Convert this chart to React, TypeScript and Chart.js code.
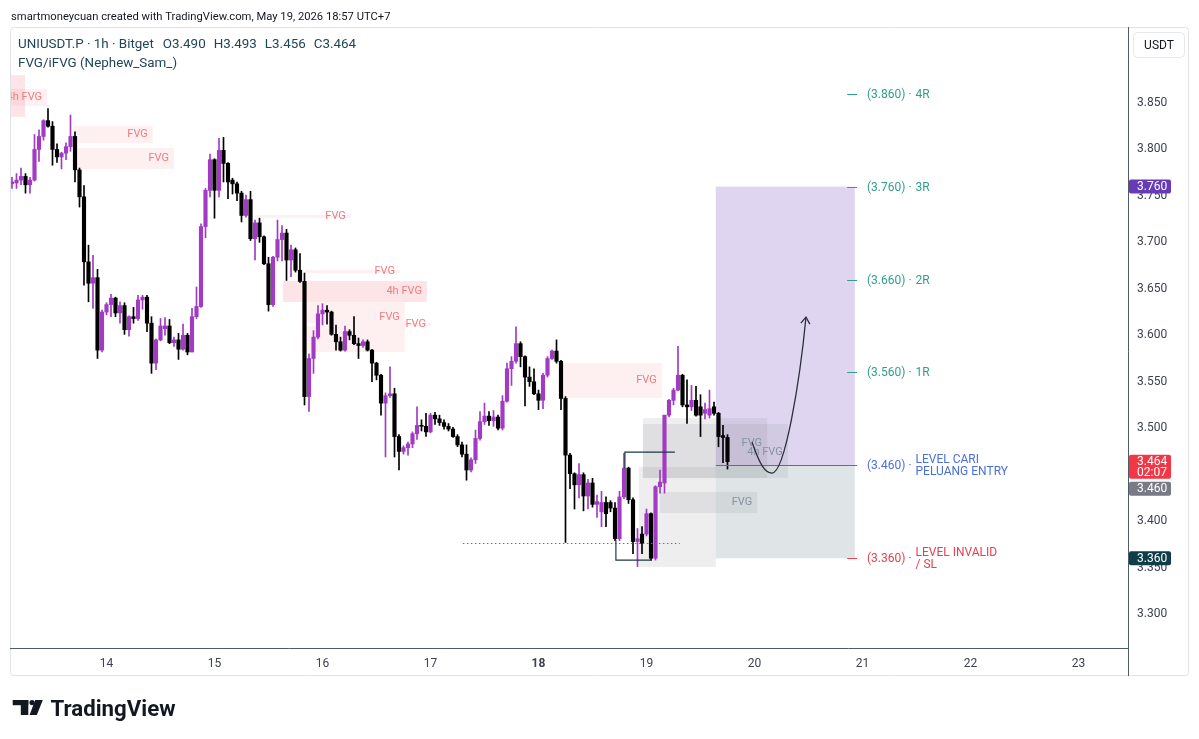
import React, { useEffect, useRef } from "react";
import { Chart, registerables } from "chart.js";

Chart.register(...registerables);

const FONT = "Roboto, 'Noto Sans', 'DejaVu Sans', sans-serif";

// Hourly candles, index 0 = 13 May 03:00 (UTC+7) ... index 159 = 19 May 18:00
const opens = [
  3.763, 3.764, 3.767, 3.771, 3.762, 3.767, 3.800, 3.814, 3.831, 3.825,
  3.800, 3.792, 3.796, 3.803, 3.814, 3.778, 3.749, 3.679, 3.656, 3.662,
  3.584, 3.625, 3.633, 3.640, 3.624, 3.632, 3.606, 3.620, 3.618, 3.638,
  3.641, 3.613, 3.570, 3.595, 3.607, 3.610, 3.592, 3.595, 3.585, 3.600,
  3.582, 3.620, 3.631, 3.717, 3.756, 3.789, 3.756, 3.799, 3.785, 3.767,
  3.763, 3.753, 3.729, 3.746, 3.704, 3.721, 3.706, 3.677, 3.633, 3.684,
  3.703, 3.710, 3.681, 3.692, 3.670, 3.658, 3.534, 3.575, 3.598, 3.623,
  3.627, 3.625, 3.601, 3.593, 3.584, 3.604, 3.600, 3.591, 3.589, 3.593,
  3.584, 3.570, 3.557, 3.527, 3.535, 3.537, 3.491, 3.475, 3.479, 3.483,
  3.494, 3.503, 3.502, 3.496, 3.514, 3.510, 3.506, 3.502, 3.499, 3.491,
  3.482, 3.472, 3.455, 3.466, 3.489, 3.507, 3.513, 3.508, 3.512, 3.500,
  3.529, 3.564, 3.572, 3.591, 3.577, 3.555, 3.550, 3.537, 3.530, 3.557,
  3.575, 3.583, 3.572, 3.532, 3.471, 3.451, 3.439, 3.450, 3.427, 3.441,
  3.418, 3.410, 3.420, 3.420, 3.414, 3.381, 3.426, 3.457, 3.423, 3.378,
  3.386, 3.386, 3.408, 3.360, 3.437, 3.441, 3.514, 3.530, 3.541, 3.557,
  3.525, 3.523, 3.530, 3.523, 3.516, 3.514, 3.523, 3.516, 3.492, 3.490,
];
const highs = [
  3.770, 3.774, 3.780, 3.774, 3.770, 3.816, 3.821, 3.832, 3.844, 3.830,
  3.806, 3.797, 3.807, 3.837, 3.819, 3.780, 3.761, 3.697, 3.686, 3.671,
  3.627, 3.635, 3.644, 3.641, 3.636, 3.635, 3.621, 3.630, 3.643, 3.643,
  3.643, 3.620, 3.596, 3.618, 3.619, 3.617, 3.598, 3.602, 3.612, 3.602,
  3.629, 3.652, 3.720, 3.758, 3.795, 3.790, 3.812, 3.813, 3.786, 3.769,
  3.765, 3.755, 3.751, 3.755, 3.724, 3.726, 3.707, 3.684, 3.685, 3.724,
  3.718, 3.714, 3.697, 3.694, 3.688, 3.667, 3.580, 3.605, 3.632, 3.634,
  3.632, 3.626, 3.611, 3.598, 3.610, 3.606, 3.620, 3.597, 3.595, 3.595,
  3.585, 3.571, 3.558, 3.538, 3.566, 3.543, 3.493, 3.481, 3.485, 3.496,
  3.523, 3.509, 3.516, 3.516, 3.517, 3.514, 3.509, 3.505, 3.501, 3.493,
  3.485, 3.482, 3.468, 3.498, 3.518, 3.527, 3.518, 3.519, 3.514, 3.535,
  3.570, 3.577, 3.609, 3.593, 3.578, 3.566, 3.564, 3.541, 3.559, 3.577,
  3.584, 3.595, 3.573, 3.534, 3.473, 3.452, 3.462, 3.452, 3.445, 3.446,
  3.428, 3.432, 3.426, 3.422, 3.420, 3.432, 3.473, 3.458, 3.425, 3.392,
  3.394, 3.413, 3.409, 3.438, 3.455, 3.514, 3.531, 3.543, 3.588, 3.558,
  3.552, 3.546, 3.545, 3.536, 3.527, 3.541, 3.528, 3.517, 3.503, 3.493,
];
const lows = [
  3.758, 3.758, 3.762, 3.753, 3.753, 3.766, 3.787, 3.810, 3.824, 3.783,
  3.786, 3.779, 3.789, 3.798, 3.765, 3.738, 3.654, 3.636, 3.629, 3.575,
  3.582, 3.622, 3.620, 3.620, 3.613, 3.601, 3.599, 3.613, 3.616, 3.628,
  3.604, 3.559, 3.563, 3.594, 3.600, 3.591, 3.588, 3.574, 3.584, 3.579,
  3.582, 3.618, 3.630, 3.705, 3.749, 3.726, 3.749, 3.765, 3.747, 3.752,
  3.745, 3.722, 3.727, 3.702, 3.681, 3.700, 3.676, 3.626, 3.631, 3.680,
  3.680, 3.659, 3.663, 3.668, 3.657, 3.525, 3.518, 3.559, 3.596, 3.611,
  3.612, 3.600, 3.584, 3.583, 3.583, 3.595, 3.590, 3.575, 3.587, 3.583,
  3.550, 3.552, 3.514, 3.469, 3.533, 3.469, 3.455, 3.472, 3.471, 3.479,
  3.488, 3.497, 3.491, 3.495, 3.504, 3.503, 3.499, 3.497, 3.490, 3.480,
  3.469, 3.444, 3.453, 3.462, 3.487, 3.504, 3.503, 3.502, 3.498, 3.498,
  3.528, 3.546, 3.570, 3.566, 3.524, 3.545, 3.536, 3.520, 3.521, 3.555,
  3.574, 3.570, 3.520, 3.377, 3.435, 3.413, 3.425, 3.411, 3.413, 3.415,
  3.404, 3.394, 3.394, 3.410, 3.379, 3.379, 3.424, 3.419, 3.365, 3.351,
  3.365, 3.384, 3.358, 3.358, 3.430, 3.430, 3.512, 3.525, 3.540, 3.523,
  3.505, 3.519, 3.513, 3.491, 3.510, 3.511, 3.514, 3.480, 3.463, 3.456,
];
const closes = [
  3.765, 3.767, 3.771, 3.762, 3.767, 3.800, 3.814, 3.831, 3.825, 3.800,
  3.792, 3.796, 3.803, 3.814, 3.778, 3.749, 3.679, 3.656, 3.662, 3.584,
  3.625, 3.633, 3.640, 3.624, 3.632, 3.606, 3.620, 3.618, 3.638, 3.641,
  3.613, 3.570, 3.595, 3.610, 3.610, 3.592, 3.595, 3.585, 3.600, 3.582,
  3.620, 3.631, 3.717, 3.756, 3.789, 3.756, 3.799, 3.785, 3.765, 3.763,
  3.753, 3.729, 3.746, 3.704, 3.721, 3.706, 3.677, 3.633, 3.684, 3.703,
  3.710, 3.681, 3.692, 3.670, 3.658, 3.534, 3.575, 3.598, 3.623, 3.627,
  3.625, 3.601, 3.593, 3.584, 3.604, 3.600, 3.591, 3.589, 3.593, 3.584,
  3.570, 3.557, 3.527, 3.535, 3.537, 3.491, 3.475, 3.479, 3.483, 3.494,
  3.503, 3.502, 3.496, 3.514, 3.510, 3.506, 3.502, 3.499, 3.491, 3.482,
  3.472, 3.455, 3.466, 3.489, 3.507, 3.513, 3.508, 3.512, 3.500, 3.529,
  3.564, 3.572, 3.591, 3.577, 3.555, 3.550, 3.537, 3.530, 3.557, 3.575,
  3.583, 3.572, 3.532, 3.471, 3.451, 3.439, 3.450, 3.427, 3.441, 3.418,
  3.421, 3.420, 3.408, 3.414, 3.381, 3.426, 3.457, 3.423, 3.378, 3.381,
  3.376, 3.408, 3.360, 3.437, 3.442, 3.514, 3.530, 3.541, 3.557, 3.525,
  3.523, 3.530, 3.514, 3.514, 3.520, 3.521, 3.516, 3.491, 3.490, 3.464,
];

// Time axis: day boundaries as candle indices
const dayTickIndex = [21, 45, 69, 93, 117, 141, 165, 189, 213, 237];
const dayTickLabels = ["14", "15", "16", "17", "18", "19", "20", "21", "22", "23"];
const boldDayLabel = "18";
const xWindow = [-0.444, 248.0];

// Price axis
const priceTicks = [3.3, 3.35, 3.4, 3.45, 3.5, 3.55, 3.6, 3.65, 3.7, 3.75, 3.8, 3.85];
const yWindow = [3.2634, 3.9318];

// Long-position plan
const rewardLevels = [3.86, 3.76, 3.66, 3.56];
const rewardLabels = ["4R", "3R", "2R", "1R"];
const entryPrice = 3.46;
const stopPrice = 3.36;
const targetPrice = 3.76;
const entryLabel = ["LEVEL CARI", "PELUANG ENTRY"];
const stopLabel = ["LEVEL INVALID", "/ SL"];
const positionSpan = [156.4, 187.3];
const levelMarkSpan = [185.6, 187.8];
const levelTextIndex = 190;
const countdown = "02:07";

// FVG zones (candle index span, price top/bottom)
const bearFvgZones = [
  { from: -0.5, to: 2.9, top: 3.88, bottom: 3.835, strong: true, label: "" },
  { from: -0.5, to: 7.8, top: 3.865, bottom: 3.847, label: "4h FVG" },
  { from: 13.6, to: 31.3, top: 3.8252, bottom: 3.8069, label: "FVG" },
  { from: 14.4, to: 36.0, top: 3.8016, bottom: 3.779, label: "FVG" },
  { from: 54.0, to: 75.3, top: 3.7294, bottom: 3.7262, label: "FVG" },
  { from: 65.1, to: 86.2, top: 3.6702, bottom: 3.667, label: "FVG" },
  { from: 60.2, to: 92.2, top: 3.6584, bottom: 3.6358, strong: true, label: "4h FVG" },
  { from: 64.4, to: 87.3, top: 3.6358, bottom: 3.6132, label: "FVG", labelPrice: 3.6196 },
  { from: 64.4, to: 87.3, top: 3.61, bottom: 3.582, label: "" },
  { from: 70.7, to: 93.1, top: 3.6132, bottom: 3.61, label: "FVG" },
  { from: 121.8, to: 144.4, top: 3.5701, bottom: 3.5325, label: "FVG" },
];
const grayFvgZones = [
  { from: 140.2, to: 167.8, top: 3.5109, bottom: 3.4463, label: "FVG", labelPrice: 3.484 },
  { from: 140.2, to: 172.4, top: 3.5045, bottom: 3.4463, label: "4h FVG", labelPrice: 3.4743 },
  { from: 139.3, to: 156.4, top: 3.4582, bottom: 3.3505, label: "" },
  { from: 144.0, to: 165.6, top: 3.4313, bottom: 3.4087, label: "FVG" },
];

// Market-structure drawings
const swingHigh = { from: 136.2, to: 147.3, price: 3.4743, dropTo: 3.457 };
const swingLow = { from: 134.2, to: 142.2, price: 3.358, riseFrom: 3.3796 };
const liquidityLine = { from: 100.2, to: 148.4, price: 3.3764 };
const projectionPath = [
  [164.44, 3.4851],
  [166.22, 3.4603], [167.33, 3.4517], [168.89, 3.4517],
  [171.78, 3.4517], [175.11, 3.5518], [176.44, 3.6196],
];

const UP = "#a13bc4";
const DOWN = "#000000";
const TEAL = "#2f9f8c";
const BLUE = "#4a6fd8";
const RED = "#e5404f";

function fitSize(ctx: any, text: string, width: number, weight = "normal") {
  ctx.font = `${weight} 100px ${FONT}`;
  return (100 * width) / ctx.measureText(text).width;
}

function roundRect(ctx: any, x: number, y: number, w: number, h: number, r: number) {
  ctx.beginPath();
  ctx.moveTo(x + r, y);
  ctx.lineTo(x + w - r, y);
  ctx.quadraticCurveTo(x + w, y, x + w, y + r);
  ctx.lineTo(x + w, y + h - r);
  ctx.quadraticCurveTo(x + w, y + h, x + w - r, y + h);
  ctx.lineTo(x + r, y + h);
  ctx.quadraticCurveTo(x, y + h, x, y + h - r);
  ctx.lineTo(x, y + r);
  ctx.quadraticCurveTo(x, y, x + r, y);
  ctx.closePath();
}

const overlayPlugin: any = {
  id: "overlay",
  beforeDraw(chart: any) {
    const { ctx, width, height } = chart;
    ctx.save();
    ctx.fillStyle = "#ffffff";
    ctx.fillRect(0, 0, width, height);
    ctx.restore();
  },
  beforeDatasetsDraw(chart: any) {
    const { ctx, chartArea: a } = chart;
    const X = (v: number) => chart.scales.x.getPixelForValue(v);
    const Y = (v: number) => chart.scales.y.getPixelForValue(v);
    ctx.save();
    ctx.beginPath();
    ctx.rect(a.left, a.top, a.right - a.left, a.bottom - a.top);
    ctx.clip();
    const box = (from: number, to: number, top: number, bottom: number, fill: string) => {
      const x0 = X(from), x1 = X(to), y0 = Y(top), y1 = Y(bottom);
      ctx.fillStyle = fill;
      ctx.fillRect(x0, y0, x1 - x0, y1 - y0);
    };
    box(positionSpan[0], positionSpan[1], targetPrice, entryPrice, "rgba(126,87,194,0.25)");
    box(positionSpan[0], positionSpan[1], entryPrice, stopPrice, "rgba(55,95,105,0.16)");
    bearFvgZones.forEach((z: any) =>
      box(z.from, z.to, z.top, z.bottom, z.strong ? "rgba(242,54,69,0.13)" : "rgba(242,54,69,0.075)")
    );
    grayFvgZones.forEach((z: any) => box(z.from, z.to, z.top, z.bottom, "rgba(120,123,134,0.13)"));
    ctx.restore();
  },
  afterDatasetsDraw(chart: any) {
    const { ctx, chartArea: a } = chart;
    const X = (v: number) => chart.scales.x.getPixelForValue(v);
    const Y = (v: number) => chart.scales.y.getPixelForValue(v);
    ctx.save();
    ctx.beginPath();
    ctx.rect(a.left, a.top, a.right - a.left, a.bottom - a.top);
    ctx.clip();

    // zone labels
    ctx.font = `11px ${FONT}`;
    ctx.textAlign = "right";
    ctx.textBaseline = "middle";
    bearFvgZones.forEach((z: any) => {
      if (!z.label) return;
      ctx.fillStyle = "#f07b80";
      const p = z.labelPrice ?? (z.top + z.bottom) / 2;
      ctx.fillText(z.label, X(z.to) - 5, Y(p));
    });
    grayFvgZones.forEach((z: any) => {
      if (!z.label) return;
      ctx.fillStyle = "#8693a0";
      const p = z.labelPrice ?? (z.top + z.bottom) / 2;
      ctx.fillText(z.label, X(z.to) - 5, Y(p));
    });

    // liquidity dotted line
    ctx.strokeStyle = "#6b6f7a";
    ctx.lineWidth = 1;
    ctx.setLineDash([1.5, 2.5]);
    ctx.beginPath();
    ctx.moveTo(X(liquidityLine.from), Math.round(Y(liquidityLine.price)) + 0.5);
    ctx.lineTo(X(liquidityLine.to), Math.round(Y(liquidityLine.price)) + 0.5);
    ctx.stroke();
    ctx.setLineDash([]);

    // swing structure lines
    ctx.strokeStyle = "#1b3a44";
    ctx.lineWidth = 1.2;
    ctx.beginPath();
    ctx.moveTo(X(swingHigh.from), Y(swingHigh.dropTo));
    ctx.lineTo(X(swingHigh.from), Y(swingHigh.price));
    ctx.lineTo(X(swingHigh.to), Y(swingHigh.price));
    ctx.stroke();
    ctx.beginPath();
    ctx.moveTo(X(swingLow.from), Y(swingLow.riseFrom));
    ctx.lineTo(X(swingLow.from), Y(swingLow.price));
    ctx.lineTo(X(swingLow.to), Y(swingLow.price));
    ctx.stroke();

    // entry line
    ctx.strokeStyle = "#5866c4";
    ctx.lineWidth = 1;
    ctx.beginPath();
    const ey = Math.round(Y(entryPrice)) + 0.5;
    ctx.moveTo(X(positionSpan[0]), ey);
    ctx.lineTo(X(positionSpan[1]), ey);
    ctx.stroke();

    // projection curve with arrow
    const P = projectionPath.map(([k, p]) => [X(k), Y(p)]);
    ctx.strokeStyle = "#2a2e39";
    ctx.lineWidth = 1.3;
    ctx.beginPath();
    ctx.moveTo(P[0][0], P[0][1]);
    ctx.bezierCurveTo(P[1][0], P[1][1], P[2][0], P[2][1], P[3][0], P[3][1]);
    ctx.bezierCurveTo(P[4][0], P[4][1], P[5][0], P[5][1], P[6][0], P[6][1]);
    ctx.stroke();
    const ang = Math.atan2(P[6][1] - P[5][1], P[6][0] - P[5][0]);
    const L = 8;
    ctx.beginPath();
    ctx.moveTo(P[6][0] - L * Math.cos(ang - 0.6), P[6][1] - L * Math.sin(ang - 0.6));
    ctx.lineTo(P[6][0], P[6][1]);
    ctx.lineTo(P[6][0] - L * Math.cos(ang + 0.6), P[6][1] - L * Math.sin(ang + 0.6));
    ctx.stroke();

    // level marks and labels
    ctx.font = `12px ${FONT}`;
    ctx.textAlign = "left";
    ctx.textBaseline = "middle";
    const level = (price: number, color: string, lines: string[]) => {
      const y = Math.round(Y(price)) + 0.5;
      ctx.strokeStyle = color;
      ctx.lineWidth = 1;
      ctx.beginPath();
      ctx.moveTo(X(levelMarkSpan[0]), y);
      ctx.lineTo(X(levelMarkSpan[1]), y);
      ctx.stroke();
      ctx.fillStyle = color;
      const prefix = `(${price.toFixed(3)}) ·`;
      const x0 = X(levelTextIndex);
      ctx.fillText(prefix, x0, y);
      const x1 = x0 + ctx.measureText(prefix).width + 4;
      if (lines.length === 1) ctx.fillText(lines[0], x1, y);
      else {
        ctx.fillText(lines[0], x1, y - 6);
        ctx.fillText(lines[1], x1, y + 6);
      }
    };
    rewardLevels.forEach((p, i) => level(p, TEAL, [rewardLabels[i]]));
    level(entryPrice, BLUE, entryLabel);
    level(stopPrice, RED, stopLabel);
    ctx.restore();
  },
  afterDraw(chart: any) {
    const { ctx, chartArea: a } = chart;
    const Y = (v: number) => chart.scales.y.getPixelForValue(v);
    ctx.save();

    // frame
    ctx.strokeStyle = "#e0e3eb";
    ctx.lineWidth = 1;
    roundRect(ctx, 10.5, 27.5, 1178, 648, 3);
    ctx.stroke();
    // axis lines
    ctx.strokeStyle = "#4f5b66";
    ctx.beginPath();
    ctx.moveTo(a.left, a.bottom + 0.5);
    ctx.lineTo(a.right, a.bottom + 0.5);
    ctx.moveTo(a.right + 0.5, a.top);
    ctx.lineTo(a.right + 0.5, 676);
    ctx.stroke();

    // USDT box
    ctx.strokeStyle = "#e6e8ee";
    roundRect(ctx, 1133.5, 32.5, 51, 25, 4);
    ctx.stroke();
    ctx.fillStyle = "#131722";
    ctx.font = `12px ${FONT}`;
    ctx.textAlign = "center";
    ctx.textBaseline = "middle";
    ctx.fillText("USDT", 1159, 45.5);

    // price tags
    const tagX = a.right + 1;
    const tagW = 42;
    const tag = (top: number, h: number, bg: string, lines: string[]) => {
      ctx.fillStyle = bg;
      roundRect(ctx, tagX, top, tagW, h, 2);
      ctx.fill();
      ctx.fillStyle = "#ffffff";
      ctx.font = `12px ${FONT}`;
      ctx.textAlign = "left";
      ctx.textBaseline = "middle";
      lines.forEach((t, i) => ctx.fillText(t, tagX + 8, top + 7.5 + i * 11));
    };
    const last = closes[closes.length - 1];
    tag(Y(targetPrice) - 7, 14, "#673ab7", [targetPrice.toFixed(3)]);
    const redTop = Y(last) - 7;
    tag(redTop, 24, "#f23645", [last.toFixed(3), countdown]);
    tag(redTop + 27, 14, "#787b86", [entryPrice.toFixed(3)]);
    tag(Y(stopPrice) - 7, 14, "#103e48", [stopPrice.toFixed(3)]);

    // header
    const h1 = "smartmoneycuan created with TradingView.com, May 19, 2026 18:57 UTC+7";
    const s1 = fitSize(ctx, h1, 380);
    ctx.font = `${s1}px ${FONT}`;
    ctx.fillStyle = "#131722";
    ctx.textAlign = "left";
    ctx.textBaseline = "alphabetic";
    ctx.fillText(h1, 11, 20);

    const title = "UNIUSDT.P · 1h · Bitget";
    const s2 = fitSize(ctx, title, 136);
    ctx.font = `${s2}px ${FONT}`;
    ctx.fillStyle = "#1f4556";
    let x = 18;
    ctx.fillText(title, x, 48);
    x += ctx.measureText(title).width + 9;
    const n = closes.length - 1;
    const vals = [
      `O${opens[n].toFixed(3)}`,
      `H${highs[n].toFixed(3)}`,
      `L${lows[n].toFixed(3)}`,
      `C${closes[n].toFixed(3)}`,
    ];
    vals.forEach((v) => {
      ctx.fillText(v, x, 48);
      x += ctx.measureText(v).width + 8;
    });
    ctx.fillText("FVG/iFVG (Nephew_Sam_)", 18, 67);

    // TradingView logo
    ctx.fillStyle = "#131722";
    ctx.fillRect(12.7, 700, 15.6, 5.2);
    ctx.fillRect(20.8, 700, 7.5, 15);
    ctx.beginPath();
    ctx.arc(32, 702.6, 2.6, 0, Math.PI * 2);
    ctx.fill();
    ctx.beginPath();
    ctx.moveTo(35.2, 700);
    ctx.lineTo(42.8, 700);
    ctx.lineTo(36.8, 715);
    ctx.lineTo(29.6, 715);
    ctx.closePath();
    ctx.fill();
    const s3 = fitSize(ctx, "TradingView", 125, "bold");
    ctx.font = `bold ${s3}px ${FONT}`;
    ctx.fillText("TradingView", 50.5, 715.5);
    ctx.restore();
  },
};

export default function App() {
  const ref = useRef<HTMLCanvasElement>(null);
  useEffect(() => {
    const canvas = ref.current;
    if (!canvas) return;
    const colors = opens.map((o, i) => (closes[i] >= o ? UP : DOWN));
    const wickData = opens.map((_, i) => ({ x: i, y: [lows[i], highs[i]] }));
    const bodyData = opens.map((o, i) => ({ x: i, y: [Math.min(o, closes[i]), Math.max(o, closes[i])] }));
    const chart = new Chart(canvas, {
      type: "bar",
      data: {
        datasets: [
          {
            data: bodyData as any,
            backgroundColor: colors,
            barThickness: 3.5,
            minBarLength: 1,
            grouped: false,
            order: 1,
          } as any,
          {
            data: wickData as any,
            backgroundColor: colors,
            barThickness: 1,
            grouped: false,
            order: 2,
          } as any,
        ],
      },
      options: {
        animation: false,
        responsive: false,
        devicePixelRatio: 1,
        layout: { padding: { left: 10, right: 11, top: 27, bottom: 63 } },
        plugins: { legend: { display: false }, tooltip: { enabled: false } },
        scales: {
          x: {
            type: "linear",
            min: xWindow[0],
            max: xWindow[1],
            offset: false,
            grid: { display: false, drawTicks: false },
            border: { display: false },
            afterBuildTicks: (s: any) => {
              s.ticks = dayTickIndex.map((v) => ({ value: v }));
            },
            afterFit: (s: any) => {
              s.height = 28;
            },
            ticks: {
              autoSkip: false,
              maxRotation: 0,
              padding: 9,
              color: "#3d4150",
              font: (c: any) => ({
                family: FONT,
                size: 12,
                weight: dayTickLabels[c.index] === boldDayLabel ? "bold" : "normal",
              }),
              callback: (_v: any, i: number) => dayTickLabels[i],
            },
          },
          y: {
            type: "linear",
            position: "right",
            min: yWindow[0],
            max: yWindow[1],
            grid: { display: false, drawTicks: false },
            border: { display: false },
            afterBuildTicks: (s: any) => {
              s.ticks = priceTicks.map((v) => ({ value: v }));
            },
            afterFit: (s: any) => {
              s.width = 60;
            },
            ticks: {
              padding: 9,
              color: "#3d4150",
              font: { family: FONT, size: 12 },
              callback: (v: any) => Number(v).toFixed(3),
            },
          },
        },
      } as any,
      plugins: [overlayPlugin],
    });
    return () => chart.destroy();
  }, []);
  return (
    <div style={{ position: "absolute", left: 0, top: 0, width: 1199, height: 739, background: "#fff" }}>
      <canvas ref={ref} width={1199} height={739} style={{ display: "block", width: 1199, height: 739 }} />
    </div>
  );
}
